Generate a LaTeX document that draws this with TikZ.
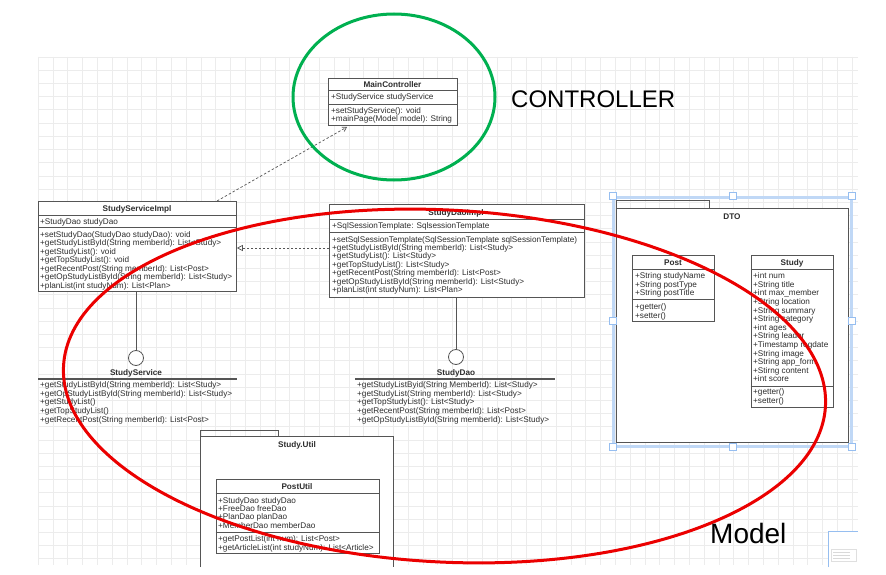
\documentclass[tikz,border=0pt]{standalone}
\usepackage{fontspec}
\setmainfont{Liberation Sans}
\usetikzlibrary{arrows.meta}
\definecolor{linec}{RGB}{85,85,85}
\definecolor{textc}{RGB}{45,45,45}
\definecolor{gridc}{RGB}{236,236,236}
\definecolor{selc}{RGB}{150,190,240}
\definecolor{greenc}{RGB}{0,176,80}
\definecolor{redc}{RGB}{235,0,0}
\tikzset{
  cls/.style={draw=linec, fill=white, line width=0.8pt, inner sep=0pt, anchor=north west},
  txt/.style={inner sep=0pt, anchor=base west, text=textc, font=\fontsize{8.2}{9}\selectfont},
  ttl/.style={inner sep=0pt, anchor=base, text=textc, font=\fontsize{8.2}{9}\selectfont\bfseries},
  sepl/.style={draw=linec, line width=0.6pt},
  lolli/.style={circle, draw=linec, fill=white, line width=0.8pt, minimum size=15pt, inner sep=0pt},
  handle/.style={draw=selc, fill=white, line width=0.8pt, minimum size=7pt, inner sep=0pt},
  pkg/.style={draw=linec, line width=0.8pt},
  big/.style={inner sep=0pt, anchor=west, text=black},
}
\newcommand\sepline[2]{\draw[sepl] (#1.west |- 0,#2) -- (#1.east |- 0,#2);}
\begin{document}
\begin{tikzpicture}[x=1pt,y=-1pt]
\useasboundingbox (0,0) rectangle (886,575);
\fill[white] (0,0) rectangle (886,575);
% grid
\foreach \k in {0,...,55} \draw[gridc, line width=0.6pt] (38+14.8*\k,57) -- (38+14.8*\k,565);
\foreach \k in {0,...,38} \draw[gridc, line width=0.6pt] (38,57+13.2*\k) -- (858,57+13.2*\k);

% MainController
\node[cls, minimum width=129pt, minimum height=47pt] (mc) at (328,78) {};
\node[ttl] (mct) at (392.5,88) {MainController};
\sepline{mc}{90.5}
\node[txt] (mca) at (331,99.5) {+StudyService studyService};
\sepline{mc}{104}
\foreach \t [count=\i from 0] in {+setStudyService(): void,+mainPage(Model model): String}
  \node[txt] (mcm\i) at (331,114+7.3*\i) {\t};

% StudyServiceImpl
\node[cls, minimum width=198pt, minimum height=90pt] (ssi) at (38,201) {};
\node[ttl] (ssit) at (137,211) {StudyServiceImpl};
\sepline{ssi}{215.5}
\node[txt] (ssia) at (40,224) {+StudyDao studyDao};
\sepline{ssi}{227.5}
\foreach \t [count=\i from 0] in {+setStudyDao(StudyDao studyDao): void,+getStudyListById(String memberId): List<Study>,+getStudyList(): void,+getTopStudyList(): void,+getRecentPost(String memberId): List<Post>,+getOpStudyListById(String memberId): List<Study>,+planList(int studyNum): List<Plan>}
  \node[txt] (ssim\i) at (40,237+8.5*\i) {\t};

% StudyDaoImpl
\node[cls, minimum width=255pt, minimum height=93pt] (sdi) at (329,204) {};
\node[ttl] (sdit) at (456,215) {StudyDaoImpl};
\sepline{sdi}{219}
\node[txt] (sdia) at (332,228) {+SqlSessionTemplate: SqlsessionTemplate};
\sepline{sdi}{232}
\foreach \t [count=\i from 0] in {+setSqlSessionTemplate(SqlSessionTemplate sqlSessionTemplate),+getStudyListById(String memberId): List<Study>,+getStudyList(): List<Study>,+getTopStudyList(): List<Study>,+getRecentPost(String memberId): List<Post>,+getOpStudyListById(String memberId): List<Study>,+planList(int studyNum): List<Plan>}
  \node[txt] (sdim\i) at (332,242+8.4*\i) {\t};

% connectors
\draw[linec, line width=0.7pt, dash pattern=on 2pt off 2pt, -{Triangle[open, length=6pt, width=6pt]}] (sdi.west |- 0,248) -- (ssi.east |- 0,248);
\draw[linec, line width=0.7pt, dash pattern=on 2.5pt off 2pt, -{Straight Barb[length=4pt, width=5pt]}] (ssi.north -| 217,0) -- (347,127);

% StudyService interface
\node[lolli] (ssc) at (136,358) {};
\draw[linec, line width=0.8pt] (ssi.south -| ssc) -- (ssc.north);
\node[ttl] (sst) at (136,375) {StudyService};
\coordinate (ssl1) at (38,379);
\coordinate (ssl2) at (237,379);
\draw[linec, line width=1.2pt] (ssl1) -- (ssl2);
\foreach \t [count=\i from 0] in {+getStudyListById(String memberId): List<Study>,+getOpStudyListById(String memberId): List<Study>,+getStudyList(),+getTopStudyList(),+getRecentPost(String memberId): List<Post>}
  \node[txt] (ssm\i) at (40,387.3+8.75*\i) {\t};

% StudyDao interface
\node[lolli] (sdc) at (456,357) {};
\draw[linec, line width=0.8pt] (sdi.south -| sdc) -- (sdc.north);
\node[ttl] (sdt) at (456,375.3) {StudyDao};
\coordinate (sdl1) at (355,379);
\coordinate (sdl2) at (555,379);
\draw[linec, line width=1.2pt] (sdl1) -- (sdl2);
\foreach \t [count=\i from 0] in {+getStudyListByid(String MemberId): List<Study>,+getStudyList(String memberId): List<Study>,+getTopStudyList(): List<Study>,+getRecentPost(String memberId): List<Post>,+getOpStudyListById(String memberId): List<Study>}
  \node[txt] (sdm\i) at (357,387.3+8.7*\i) {\t};

% DTO package
\draw[selc!60, line width=3pt] (613.5,197) rectangle (851,446);
\draw[pkg, fill=white] (616.7,208.3) rectangle (848.3,442.3);
\draw[pkg] (616.7,208.3) -- (616.7,200.7) -- (709,200.7) -- (709,208.3);
\node[ttl] (dtot) at (732,219) {DTO};
\foreach \p [count=\i] in {{613,196},{733,196},{852,196},{613,321},{852,321},{613,447},{733,447},{852,447}}
  \node[handle] (h\i) at (\p) {};

% Post
\node[cls, minimum width=81.7pt, minimum height=65.7pt] (post) at (632.3,255) {};
\node[ttl] (postt) at (673,265.3) {Post};
\sepline{post}{269}
\foreach \t [count=\i from 0] in {+String studyName,+String postType,+String postTitle}
  \node[txt] (posta\i) at (635,278.7+8.5*\i) {\t};
\sepline{post}{299.3}
\foreach \t [count=\i from 0] in {+getter(),+setter()}
  \node[txt] (postm\i) at (635,309.7+8.6*\i) {\t};

% Study
\node[cls, minimum width=82.6pt, minimum height=151.7pt] (study) at (750.7,255) {};
\node[ttl] (studyt) at (792,265.3) {Study};
\sepline{study}{269}
\foreach \t [count=\i from 0] in {+int num,+String title,+int max\_member,+String location,+String summary,+String category,+int ages,+String leader,+Timestamp regdate,+String image,+String app\_form,+Stirng content,+int score}
  \node[txt] (studya\i) at (753,278.7+8.6*\i) {\t};
\sepline{study}{386}
\foreach \t [count=\i from 0] in {+getter(),+setter()}
  \node[txt] (studym\i) at (753,394.7+8.6*\i) {\t};

% Study.Util package
\draw[pkg, fill=white] (200.7,567) -- (200.7,436.7) -- (393,436.7) -- (393,567);
\draw[pkg] (200.7,436.7) -- (200.7,430) -- (278.3,430) -- (278.3,436.7);
\node[ttl] (sut) at (297,447.3) {Study.Util};

% PostUtil
\node[cls, minimum width=163.3pt, minimum height=74pt] (pu) at (215.7,479.3) {};
\node[ttl] (put) at (297,489.7) {PostUtil};
\sepline{pu}{493.3}
\foreach \t [count=\i from 0] in {+StudyDao studyDao,+FreeDao freeDao,+PlanDao planDao,+MemberDao memberDao}
  \node[txt] (pua\i) at (218,503+8.4*\i) {\t};
\sepline{pu}{532.7}
\foreach \t [count=\i from 0] in {+getPostList(int num): List<Post>,+getArticleList(int studyNum): List<Article>}
  \node[txt] (pum\i) at (218,541.5+8.6*\i) {\t};

% thumbnail
\fill[white] (828.3,531.7) rectangle (886,575);
\draw[selc, line width=1.5pt] (828.3,567) -- (828.3,531.7) -- (858,531.7);
\draw[gray!25, line width=0.5pt] (831,549) rectangle (856,561);
\foreach \k in {0,1,2} \draw[gray!30, line width=0.6pt] (833,552+3*\k) -- (850,552+3*\k);

% highlight ellipses
\draw[greenc, line width=3pt] (394,97) ellipse [x radius=101, y radius=83];
\draw[redc, line width=3pt, rotate around={-3:(444.5,386)}] (444.5,386) ellipse [x radius=381.5, y radius=176];

% labels
\node[big, font=\fontsize{24}{28}\selectfont] (ctl) at (511,99) {CONTROLLER};
\node[big, font=\fontsize{28}{32}\selectfont] (mdl) at (710,533) {Model};
\end{tikzpicture}
\end{document}
